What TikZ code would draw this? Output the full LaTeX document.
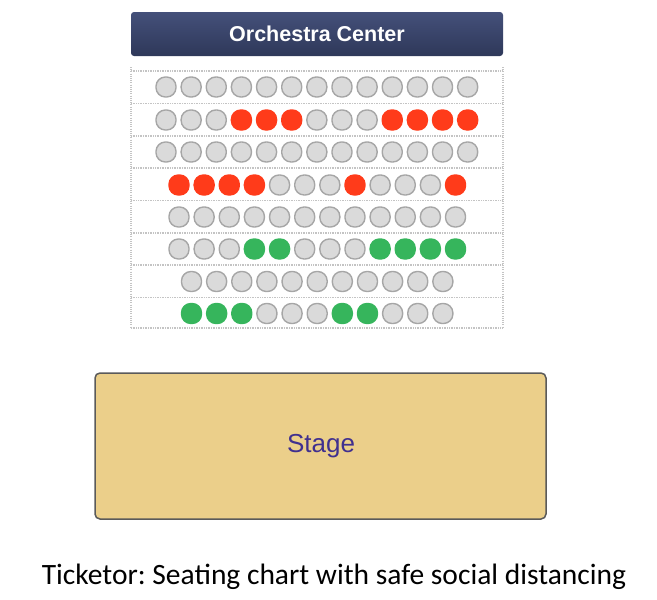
\documentclass[tikz,border=0pt]{standalone}
\usepackage{fontspec}
\setmainfont{Liberation Sans}
\newfontfamily\capfont{Carlito}
\definecolor{hdrtop}{HTML}{44507A}
\definecolor{hdrbot}{HTML}{2E3859}
\definecolor{seatgrey}{HTML}{DADADA}
\definecolor{seatedge}{HTML}{A6A6A6}
\definecolor{seatred}{HTML}{FF3B1A}
\definecolor{seatgreen}{HTML}{36B55C}
\definecolor{dotgrey}{HTML}{C4C4C4}
\definecolor{stagefill}{HTML}{EBCF8A}
\definecolor{stageedge}{HTML}{5A5A5A}
\definecolor{stagetext}{HTML}{40308F}
\tikzset{
  seatbase/.style={minimum size=20pt, inner sep=0pt, rounded corners=9.4pt, line width=1.4pt},
  seate/.style={seatbase, fill=seatgrey, draw=seatedge},
  seatr/.style={seatbase, fill=seatred, draw=seatred},
  seatg/.style={seatbase, fill=seatgreen, draw=seatgreen},
  dotline/.style={draw=dotgrey, line width=1.6pt, dash pattern=on 0.8pt off 0.9pt},
  vdotline/.style={draw=dotgrey, line width=1.1pt, dash pattern=on 0.8pt off 1.4pt},
}
\frenchspacing
\begin{document}
\begin{tikzpicture}[x=1pt, y=-1pt]
\useasboundingbox (0,0) rectangle (657,600);
% header
\shade[top color=hdrtop, bottom color=hdrbot, rounded corners=3pt] (131,12) rectangle (503,56);
\node[text=white, font=\bfseries\fontsize{21.5}{25}\selectfont] (hdr) at (317,34) {Orchestra Center};
% dotted grid
\foreach \yy in {71,103.3,135.7,168,200.5,232.8,265.2,297.6,328}
  \draw[dotline] (131,\yy) -- (503,\yy);
\draw[vdotline] (131,67) -- (131,328);
\draw[vdotline] (503,67) -- (503,328);
% seats
\foreach [count=\i] \c in {e,e,e,e,e,e,e,e,e,e,e,e,e}
  \node[seat\c] (ra\i) at ({166+25.14*(\i-1)},87) {};
\foreach [count=\i] \c in {e,e,e,r,r,r,e,e,e,r,r,r,r}
  \node[seat\c] (rb\i) at ({166+25.14*(\i-1)},120) {};
\foreach [count=\i] \c in {e,e,e,e,e,e,e,e,e,e,e,e,e}
  \node[seat\c] (rc\i) at ({166+25.14*(\i-1)},152) {};
\foreach [count=\i] \c in {r,r,r,r,e,e,e,r,e,e,e,r}
  \node[seat\c] (rd\i) at ({179+25.14*(\i-1)},185) {};
\foreach [count=\i] \c in {e,e,e,e,e,e,e,e,e,e,e,e}
  \node[seat\c] (re\i) at ({179+25.14*(\i-1)},217) {};
\foreach [count=\i] \c in {e,e,e,g,g,e,e,e,g,g,g,g}
  \node[seat\c] (rf\i) at ({179+25.14*(\i-1)},249) {};
\foreach [count=\i] \c in {e,e,e,e,e,e,e,e,e,e,e}
  \node[seat\c] (rg\i) at ({191.5+25.14*(\i-1)},281.5) {};
\foreach [count=\i] \c in {g,g,g,e,e,e,g,g,e,e,e}
  \node[seat\c] (rh\i) at ({191.5+25.14*(\i-1)},313.5) {};
% stage
\draw[fill=stagefill, draw=stageedge, line width=1.5pt, rounded corners=5pt] (95,373) rectangle (546,519);
\node[text=stagetext, font=\fontsize{26}{30}\selectfont] (stage) at (321,446) {Stage};
% caption
\node[anchor=base, inner sep=0pt, font=\capfont\fontsize{29.5}{33}\selectfont] (cap) at (334,584) {Ticketor: Seating chart with safe social distancing};
\end{tikzpicture}
\end{document}
